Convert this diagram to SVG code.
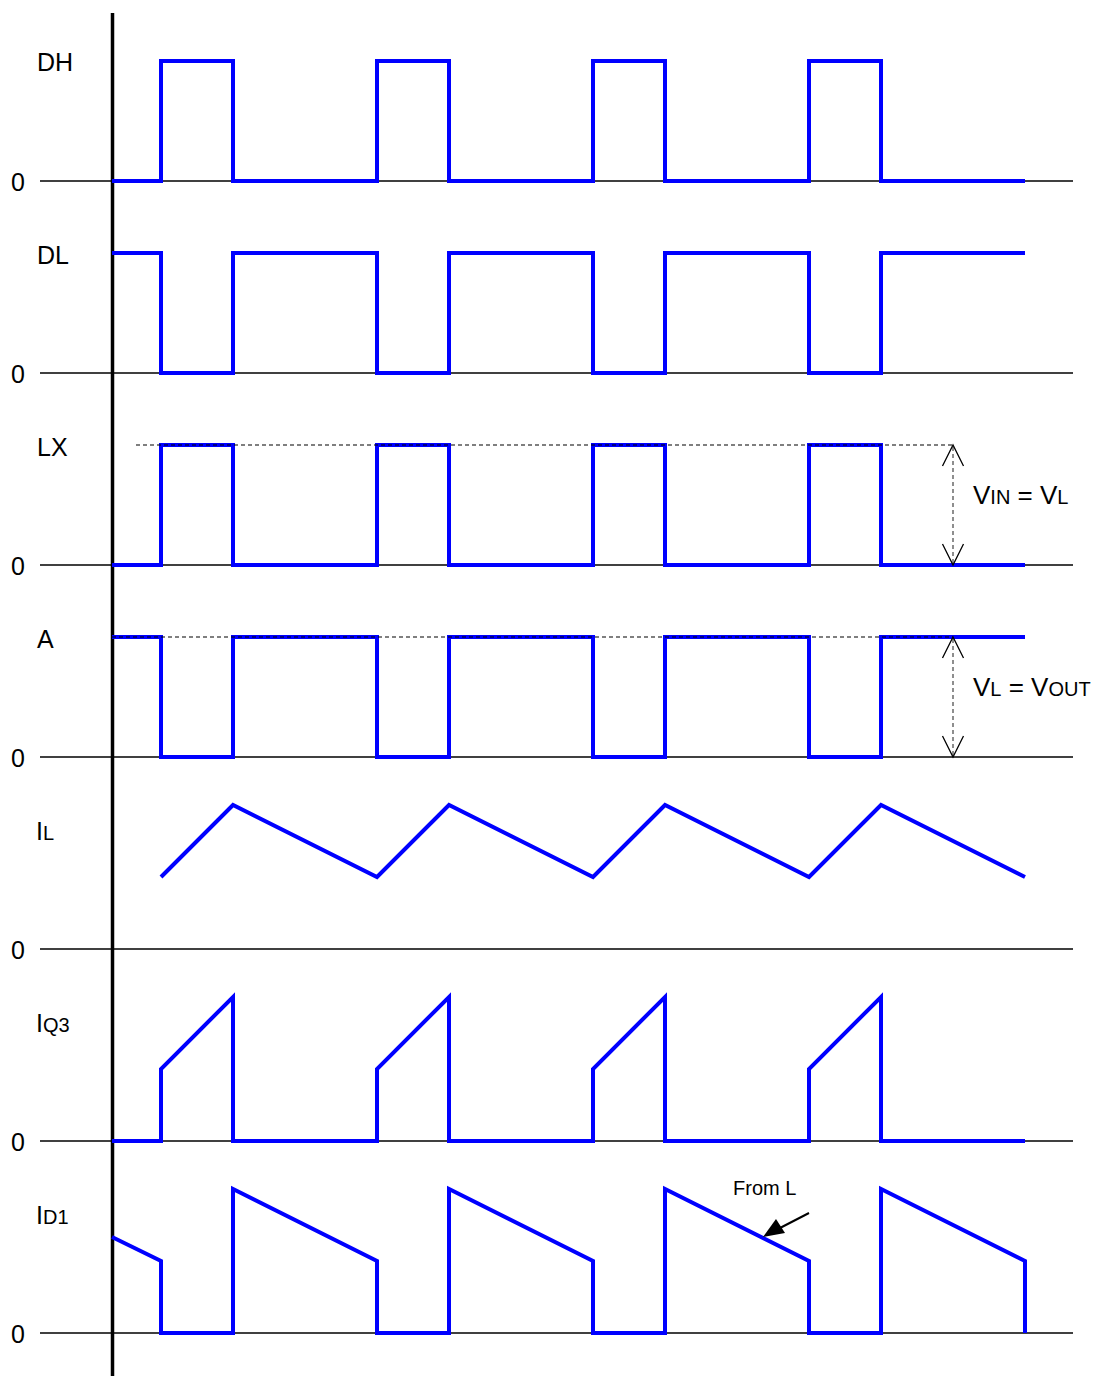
<svg xmlns="http://www.w3.org/2000/svg" width="1095" height="1376" viewBox="0 0 1095 1376">
<style>
.t{font-family:"Liberation Sans",Arial,sans-serif;font-size:25px;fill:#000}
.v{font-size:26px}
.s{font-size:20px}
.base{stroke:#000;stroke-width:1.6;fill:none}
.w{stroke:#0000ff;stroke-width:4;fill:none;stroke-linejoin:miter}
.d{stroke:#000;stroke-width:1.2;stroke-dasharray:4,3;fill:none}
.dv{stroke:#444;stroke-width:1.2;stroke-dasharray:4,3;fill:none}
.ah{stroke:#000;stroke-width:1.3;fill:none}
</style>
<g id="baselines">
<line class="base" x1="40" y1="181" x2="1073" y2="181"/>
<line class="base" x1="40" y1="373" x2="1073" y2="373"/>
<line class="base" x1="40" y1="565" x2="1073" y2="565"/>
<line class="base" x1="40" y1="757" x2="1073" y2="757"/>
<line class="base" x1="40" y1="949" x2="1073" y2="949"/>
<line class="base" x1="40" y1="1141" x2="1073" y2="1141"/>
<line class="base" x1="40" y1="1333" x2="1073" y2="1333"/>
</g>
<g id="axis"><line x1="112.5" y1="13" x2="112.5" y2="1376" stroke="#000" stroke-width="3.5"/></g>
<g id="labels">
<text class="t" x="37" y="71">DH</text>
<text class="t" x="37" y="264">DL</text>
<text class="t" x="37" y="456">LX</text>
<text class="t" x="37" y="648">A</text>
<text class="t" x="36" y="840">I<tspan class="s">L</tspan></text>
<text class="t" x="36" y="1032">I<tspan class="s">Q3</tspan></text>
<text class="t" x="36" y="1224">I<tspan class="s">D1</tspan></text>
<text class="t" x="11" y="191">0</text>
<text class="t" x="11" y="383">0</text>
<text class="t" x="11" y="575">0</text>
<text class="t" x="11" y="767">0</text>
<text class="t" x="11" y="959">0</text>
<text class="t" x="11" y="1151">0</text>
<text class="t" x="11" y="1343">0</text>
</g>
<g id="waveforms">
<polyline id="DH" class="w" points="112,181 161,181 161,61 233,61 233,181 377,181 377,61 449,61 449,181 593,181 593,61 665,61 665,181 809,181 809,61 881,61 881,181 1025,181"/>
<polyline id="DL" class="w" points="112,253 161,253 161,373 233,373 233,253 377,253 377,373 449,373 449,253 593,253 593,373 665,373 665,253 809,253 809,373 881,373 881,253 1025,253"/>
<polyline id="LX" class="w" points="112,565 161,565 161,445 233,445 233,565 377,565 377,445 449,445 449,565 593,565 593,445 665,445 665,565 809,565 809,445 881,445 881,565 1025,565"/>
<polyline id="A" class="w" points="112,637 161,637 161,757 233,757 233,637 377,637 377,757 449,757 449,637 593,637 593,757 665,757 665,637 809,637 809,757 881,757 881,637 1025,637"/>
<polyline id="IL" class="w" points="161,877 233,805 377,877 449,805 593,877 665,805 809,877 881,805 1025,877"/>
<polyline id="IQ3" class="w" points="112,1141 161,1141 161,1069 233,997 233,1141 377,1141 377,1069 449,997 449,1141 593,1141 593,1069 665,997 665,1141 809,1141 809,1069 881,997 881,1141 1025,1141"/>
<polyline id="ID1" class="w" points="112,1237 161,1261 161,1333 233,1333 233,1189 377,1261 377,1333 449,1333 449,1189 593,1261 593,1333 665,1333 665,1189 809,1261 809,1333 881,1333 881,1189 1025,1261 1025,1333"/>
</g>
<g id="dashes">
<line class="d" x1="136" y1="445" x2="953" y2="445"/>
<line class="d" x1="112" y1="637" x2="953" y2="637"/>
</g>
<g id="dim-vin">
<line class="dv" x1="953" y1="447" x2="953" y2="563"/>
<polyline class="ah" points="942.5,466 953,445 963.5,466"/>
<polyline class="ah" points="942.5,544 953,565 963.5,544"/>
<text class="t v" x="973" y="504">V<tspan class="s">IN</tspan> = V<tspan class="s">L</tspan></text>
</g>
<g id="dim-vout">
<line class="dv" x1="953" y1="639" x2="953" y2="755"/>
<polyline class="ah" points="942.5,658 953,637 963.5,658"/>
<polyline class="ah" points="942.5,736 953,757 963.5,736"/>
<text class="t v" x="973" y="696">V<tspan class="s">L</tspan> = V<tspan class="s">OUT</tspan></text>
</g>
<g id="from-l">
<text class="t" x="733" y="1195" style="font-size:20px">From L</text>
<line x1="809" y1="1213" x2="780" y2="1228" stroke="#000" stroke-width="2"/>
<path d="M763,1237 L776,1219 L785,1233 Z" fill="#000"/>
</g>
</svg>
